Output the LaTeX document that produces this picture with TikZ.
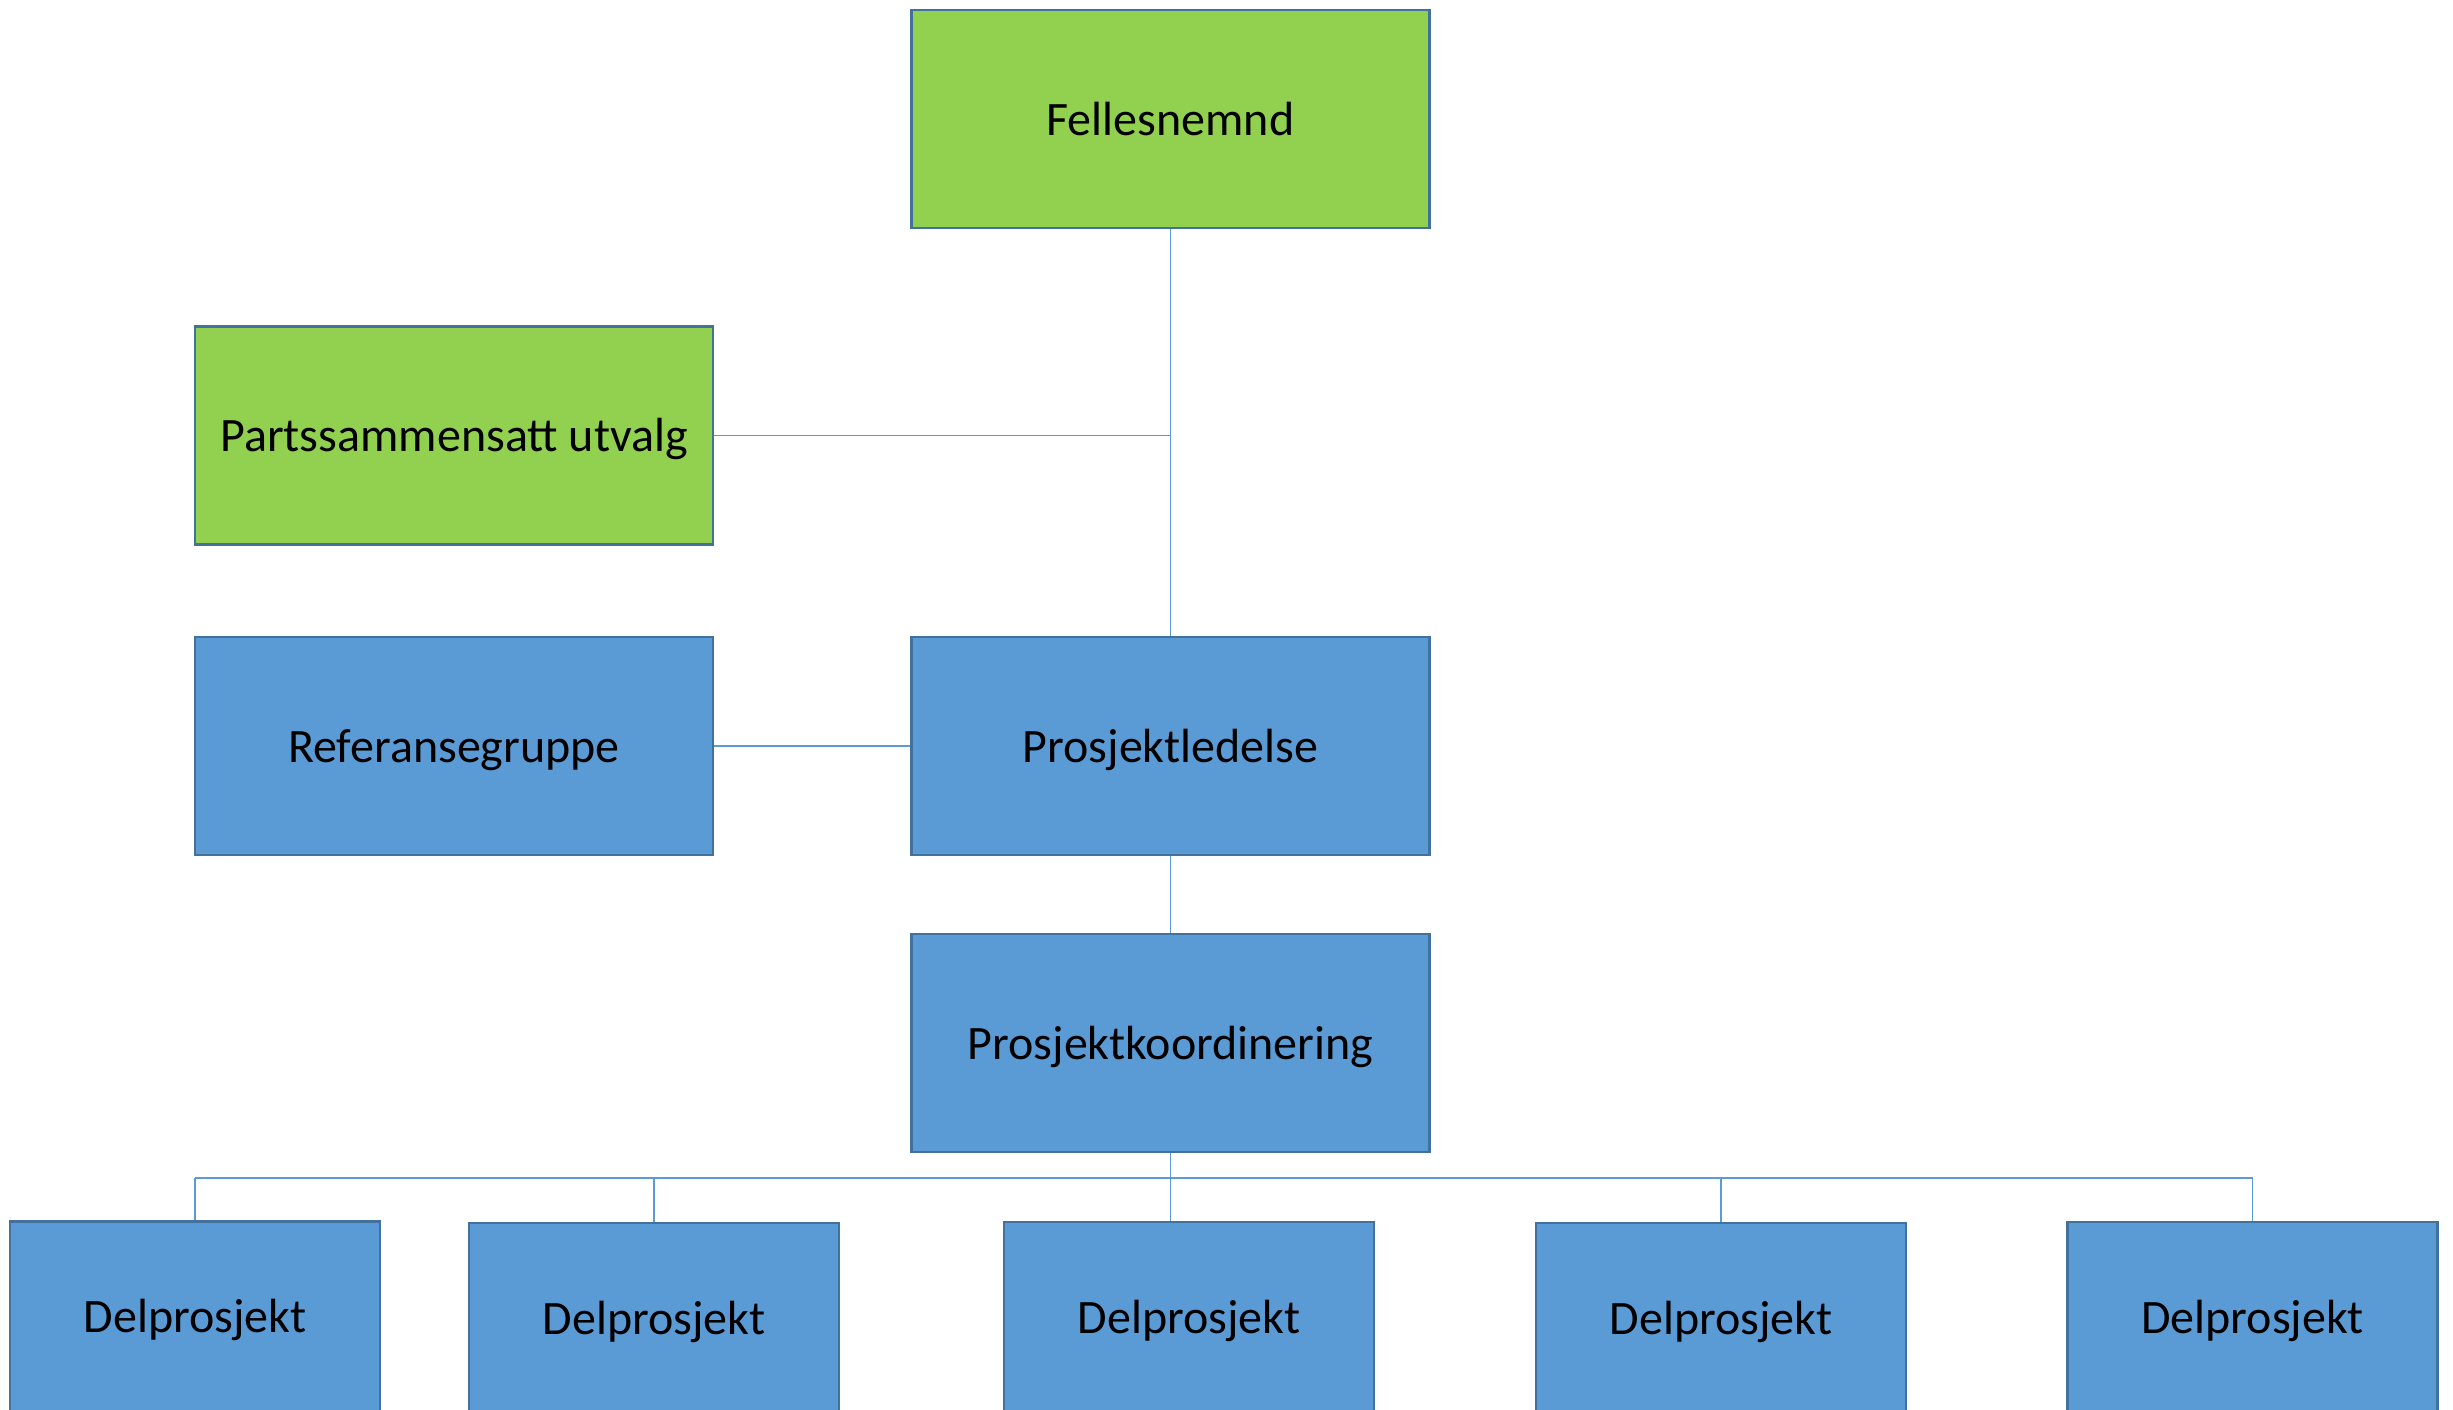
\documentclass[tikz,border=0pt]{standalone}
\usepackage{fontspec}
\setmainfont{Carlito}
\definecolor{grn}{HTML}{92D050}
\definecolor{blu}{HTML}{5B9BD5}
\definecolor{bord}{HTML}{41719C}
\definecolor{conn}{HTML}{5B9BD5}
\tikzset{
  box/.style={draw=bord, line width=1.25pt, rectangle, minimum width=259pt, minimum height=109pt, inner sep=0pt, text height=16pt, text depth=0pt, font=\fontsize{24}{29}\selectfont, text=black},
  gbox/.style={box, fill=grn},
  bbox/.style={box, fill=blu},
  dbox/.style={box, fill=blu, minimum width=185pt, minimum height=95pt},
  link/.style={draw=conn, line width=0.75pt}
}
\begin{document}
\begin{tikzpicture}[x=0.5pt,y=-0.5pt]
\useasboundingbox (0,0) rectangle (2453,1409);
\clip (0,0) rectangle (2453,1409);
\node[gbox] (fel) at (1170.5,119) {Fellesnemnd};
\node[gbox] (par) at (454,435.5) {Partssammensatt utvalg};
\node[bbox] (ref) at (454,746) {Referansegruppe};
\node[bbox] (led) at (1170.5,746) {Prosjektledelse};
\node[bbox] (koo) at (1170.5,1043) {Prosjektkoordinering};
\node[dbox] (d1) at (195,1316.5) {Delprosjekt};
\node[dbox] (d2) at (654,1318) {Delprosjekt};
\node[dbox] (d3) at (1189,1317) {Delprosjekt};
\node[dbox] (d4) at (1721,1318) {Delprosjekt};
\node[dbox] (d5) at (2252.5,1317) {Delprosjekt};
\coordinate (j) at (fel.south |- par.east);
\coordinate (bc) at (1170.5,1178);
\coordinate (bl) at (d1.north |- bc);
\coordinate (br) at (d5.north |- bc);
\draw[link] (fel.south) -- (led.north);
\draw[link] (par.east) -- (j);
\draw[link] (ref.east) -- (led.west);
\draw[link] (led.south) -- (koo.north);
\draw[link] (koo.south) -- (bc);
\draw[link] (bl) -- (br);
\draw[link] (bl) -- (d1.north);
\draw[link] (d2.north |- bc) -- (d2.north);
\draw[link] (bc) -- (koo.south |- d3.north);
\draw[link] (d4.north |- bc) -- (d4.north);
\draw[link] (br) -- (d5.north);
\end{tikzpicture}
\end{document}
